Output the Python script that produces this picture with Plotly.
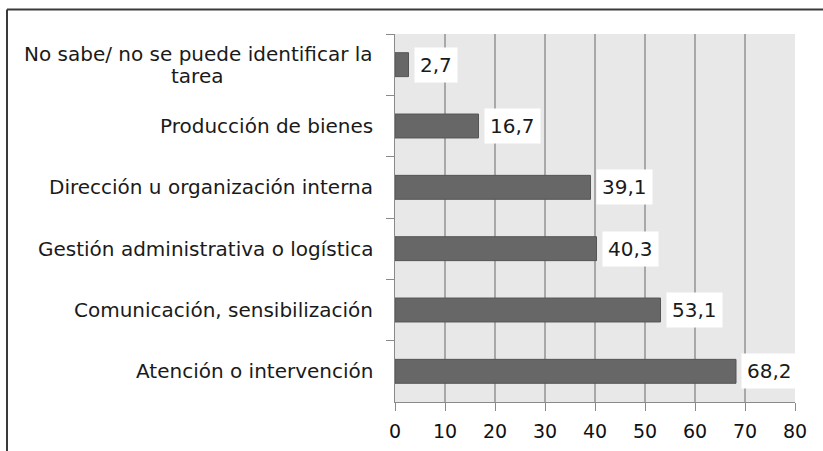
import plotly.graph_objects as go

# categories top to bottom
categories = [
    "No sabe/ no se puede identificar la tarea",
    "Producción de bienes",
    "Dirección u organización interna",
    "Gestión administrativa o logística",
    "Comunicación, sensibilización",
    "Atención o intervención",
]
values = [2.7, 16.7, 39.1, 40.3, 53.1, 68.2]
x_ticks = [0, 10, 20, 30, 40, 50, 60, 70, 80]

FONT = "DejaVu Sans"
W, H = 823, 451
L, R, T, B = 395, 28, 34, 49

fig = go.Figure()
fig.add_trace(go.Bar(
    x=values,
    y=categories,
    orientation="h",
    marker=dict(color="#676767", line=dict(color="#555555", width=1)),
    hoverinfo="x+y",
))

# value labels in white boxes
for cat, v in zip(categories, values):
    fig.add_annotation(
        x=v, y=cat, xref="x", yref="y",
        text=f"{v:.1f}".replace(".", ","),
        showarrow=False, xanchor="left", xshift=5,
        bgcolor="white", borderpad=5,
        font=dict(family=FONT, size=20, color="#1a1a1a"),
    )

# category labels (the first one wraps over two centred lines)
for cat in categories:
    words = cat.split(" ")
    if len(cat) > 36:
        first, second = " ".join(words[:-1]), words[-1]
        fig.add_annotation(
            x=0, y=cat, xref="paper", yref="y", text=first,
            showarrow=False, xanchor="right", xshift=-20, yshift=11,
            font=dict(family=FONT, size=20, color="#1a1a1a"),
        )
        fig.add_annotation(
            x=-0.496, y=cat, xref="paper", yref="y", text=second,
            showarrow=False, xanchor="center", yshift=-11,
            font=dict(family=FONT, size=20, color="#1a1a1a"),
        )
    else:
        fig.add_annotation(
            x=0, y=cat, xref="paper", yref="y", text=cat,
            showarrow=False, xanchor="right", xshift=-20,
            font=dict(family=FONT, size=20, color="#1a1a1a"),
        )

# outer frame (only top and left edges visible in the crop)
fig.add_shape(type="line", xref="paper", yref="paper",
              x0=-0.97, x1=1.2, y0=1.0666, y1=1.0666,
              line=dict(color="#3a3a3a", width=2))
fig.add_shape(type="line", xref="paper", yref="paper",
              x0=-0.97, x1=-0.97, y0=-0.2, y1=1.0666,
              line=dict(color="#3a3a3a", width=2))

fig.update_layout(
    width=W, height=H,
    margin=dict(l=L, r=R, t=T, b=B),
    paper_bgcolor="white",
    plot_bgcolor="#e8e8e8",
    bargap=0.61,
    showlegend=False,
    font=dict(family=FONT, size=19, color="#111111"),
)
fig.update_xaxes(
    range=[0, 80],
    tickvals=x_ticks,
    ticks="outside", ticklen=8, tickcolor="#8a8a8a",
    ticklabelstandoff=4, automargin=False,
    showline=True, linecolor="#8a8a8a", linewidth=1,
    showgrid=True, gridcolor="#a8a8a8", gridwidth=1.5,
    zeroline=False,
    tickfont=dict(family=FONT, size=19, color="#111111"),
)
fig.update_yaxes(
    type="category",
    categoryorder="array", categoryarray=categories,
    autorange="reversed", automargin=False,
    ticks="outside", tickson="boundaries", ticklen=8, tickcolor="#8a8a8a",
    showline=True, linecolor="#8a8a8a", linewidth=1,
    showgrid=False, showticklabels=False,
)

# drop the default page margin so the figure sits at the window's corner
fig.write_html(
    "out.html",
    config={"displayModeBar": False},
    post_script="document.body.style.margin='0';",
)
